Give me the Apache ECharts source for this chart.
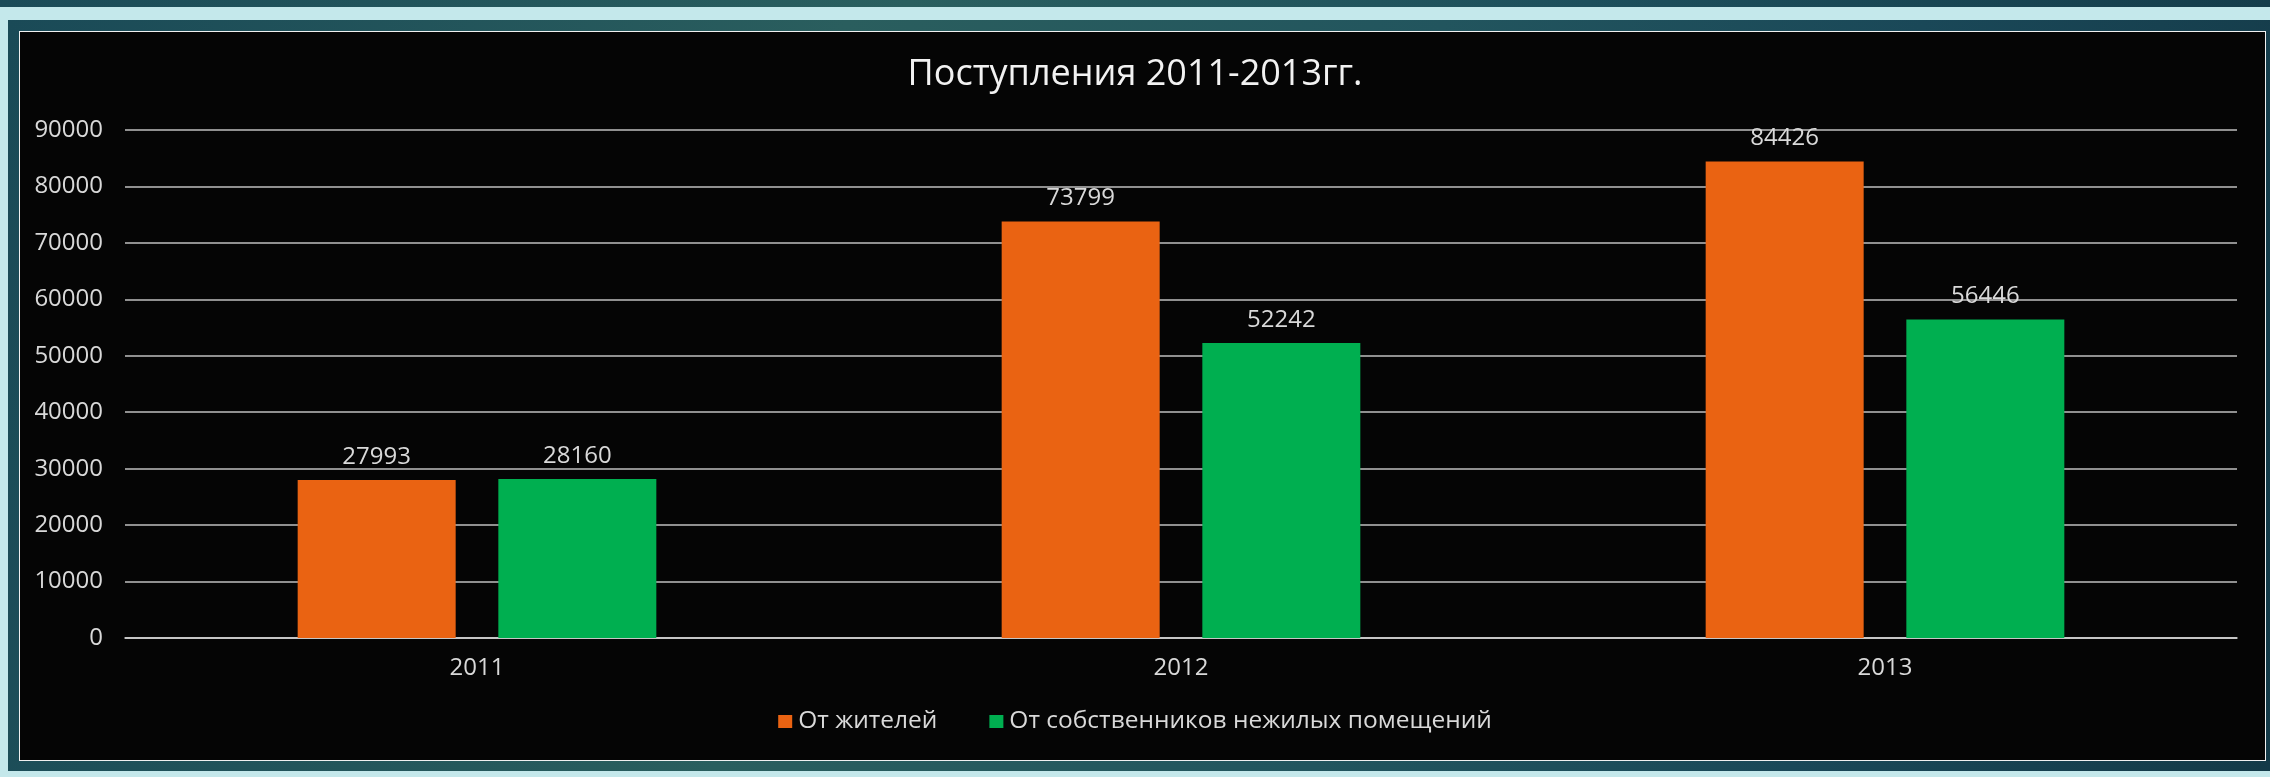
<!DOCTYPE html>
<html>
<head>
<meta charset="utf-8">
<script src="https://cdn.jsdelivr.net/npm/echarts@6/dist/echarts.min.js"></script>
<style>
  html, body { margin: 0; padding: 0; width: 2270px; height: 777px; overflow: hidden; }
  body { position: relative; background: linear-gradient(90deg, #1b4b58 0%, #2a5f5f 40%, #1d4f5c 70%, #153d4b 100%); }
  #cyan { position: absolute; left: 0; top: 7px; width: 2270px; height: 770px; background: #c4e8eb; }
  #frame { position: absolute; left: 8px; top: 20px; width: 2262px; height: 751px;
           background: linear-gradient(100deg, #1a4a57 0%, #2a5e5e 35%, #22555e 60%, #1a4858 80%, #143a48 100%); }
  #panel { position: absolute; left: 19px; top: 31px; width: 2245px; height: 728px;
           background: #050505; border: 1.5px solid #f0f0f0; }
  #chart { position: absolute; left: 0; top: 0; width: 2270px; height: 777px; }
</style>
</head>
<body>
<div id="cyan"></div>
<div id="frame"></div>
<div id="panel"></div>
<div id="chart"></div>
<script>
const titleText = 'Поступления 2011-2013гг.';
const categories = ['2011', '2012', '2013'];
const seriesNames = ['От жителей', 'От собственников нежилых помещений'];
const residents = [27993, 73799, 84426];
const owners = [28160, 52242, 56446];
const yMin = 0, yMax = 90000, yStep = 10000;

const FONT = '"Open Sans", "Noto Sans", sans-serif';
const TXT = '#d9d9d9';

const chart = echarts.init(document.getElementById('chart'), null, { renderer: 'canvas' });
chart.setOption({
  backgroundColor: 'transparent',
  animation: false,
  textStyle: { fontFamily: FONT },
  title: {
    text: titleText, left: 'center', top: 57, padding: 0,
    textStyle: { color: '#f2f2f2', fontSize: 36, fontWeight: 'normal', fontFamily: FONT }
  },
  legend: {
    data: seriesNames, left: 'center', top: 709, padding: 0,
    itemWidth: 14, itemHeight: 13, itemGap: 52,
    icon: 'rect',
    textStyle: { color: TXT, fontSize: 24.5, fontFamily: FONT, padding: [0, 0, 0, 1] }
  },
  grid: { left: 125, right: 33, top: 130, bottom: 139, containLabel: false },
  xAxis: {
    type: 'category', data: categories,
    axisTick: { show: false },
    axisLine: { show: true, lineStyle: { color: '#d9d9d9', width: 1.5 } },
    axisLabel: { color: TXT, fontSize: 24, margin: 18, fontFamily: FONT },
    splitLine: { show: false }
  },
  yAxis: {
    type: 'value', min: yMin, max: yMax, interval: yStep,
    axisLine: { show: false }, axisTick: { show: false },
    axisLabel: { color: TXT, fontSize: 24, margin: 22, fontFamily: FONT, formatter: v => String(v) },
    splitLine: { show: true, lineStyle: { color: '#bfbfbf', width: 1.5 } }
  },
  series: [
    {
      name: seriesNames[0], type: 'bar', data: residents,
      barWidth: 158, barGap: '27%',
      itemStyle: { color: '#ea6312' },
      label: { show: true, position: 'top', distance: 11, color: TXT, fontSize: 24, fontFamily: FONT }
    },
    {
      name: seriesNames[1], type: 'bar', data: owners,
      barWidth: 158, barGap: '27%',
      itemStyle: { color: '#00af50' },
      label: { show: true, position: 'top', distance: 11, color: TXT, fontSize: 24, fontFamily: FONT }
    }
  ]
});
</script>
</body>
</html>
